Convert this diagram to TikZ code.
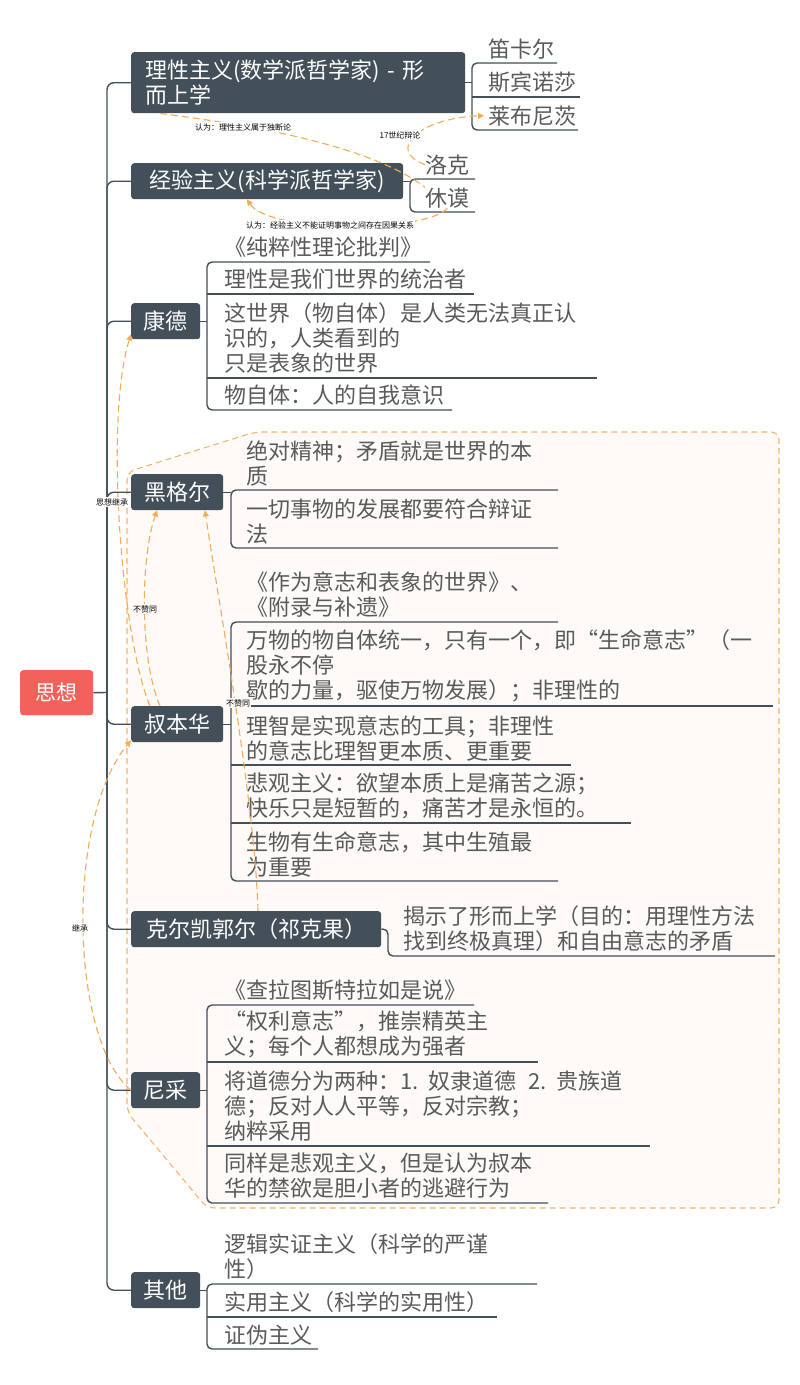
\documentclass[tikz,border=0pt]{standalone}
\usepackage{fontspec}
\setmainfont{Noto Sans CJK SC}
\usetikzlibrary{arrows.meta}
\definecolor{topicc}{HTML}{434F59}
\definecolor{rootc}{HTML}{F0625A}
\definecolor{relc}{HTML}{F6AB57}
\definecolor{bndfill}{HTML}{FEFAF7}
\definecolor{bndline}{HTML}{F6B56E}
\definecolor{subtxt}{HTML}{5A5A5A}
\tikzset{
  conn/.style={draw=topicc, line width=1.4pt},
  topicbox/.style={fill=topicc, text=white, rounded corners=3pt, font=\fontsize{22}{25}\selectfont, anchor=north west, inner sep=0pt, align=left, minimum height=36pt},
  rootbox/.style={fill=rootc, text=white, rounded corners=3pt, font=\fontsize{21}{25}\selectfont, anchor=north west, inner sep=0pt},
  subtext/.style={text=subtxt, font=\fontsize{22}{25}\selectfont, anchor=south west, inner sep=0pt, align=left},
  relline/.style={draw=relc, line width=1.1pt, dash pattern=on 7pt off 4pt, -{Triangle[length=6pt,width=6pt]}},
  rellab/.style={font=\fontsize{8}{9}\selectfont, text=black, inner sep=1pt},
  bnd/.style={draw=bndline, fill=bndfill, line width=1.1pt, dash pattern=on 6pt off 4pt, rounded corners=8pt}
}
\begin{document}
\begin{tikzpicture}[x=1pt,y=-1pt]
\useasboundingbox (0,0) rectangle (800,1385);
\fill[white] (0,0) rectangle (800,1385);

% boundary
\draw[bnd] (127,1112) -- (127,472) -- (255,432) -- (779,432) -- (779,1208) -- (207,1208) -- cycle;

% root and topics
\node[rootbox, minimum width=73pt, minimum height=45pt] (root) at (20,670) {思想};
\node[topicbox, inner xsep=14pt, text width=306pt, minimum height=61pt] (t1) at (131,52) {理性主义(数学派哲学家) - 形\\而上学};
\node[topicbox, minimum width=272pt] (t2) at (131,163) {经验主义(科学派哲学家)};
\node[topicbox, minimum width=69pt] (t3) at (131,303) {康德};
\node[topicbox, minimum width=92pt] (t4) at (131,474) {黑格尔};
\node[topicbox, minimum width=92pt] (t5) at (131,706) {叔本华};
\node[topicbox, minimum width=250pt] (t6) at (131,911) {克尔凯郭尔（祁克果）};
\node[topicbox, minimum width=69pt] (t7) at (131,1072) {尼采};
\node[topicbox, minimum width=69pt] (t8) at (131,1272) {其他};

% spine
\coordinate (sp) at (107,692.5);
\draw[conn] (root.east) -- (sp);
\foreach \t in {t1,t2,t3,t4,t5,t6,t7,t8}
  \draw[conn, rounded corners=7pt] (sp) -- (sp |- \t.west) -- (\t.west);

% group 1
\draw[conn] (t1.east) -- ++(7,0);
\draw[conn, rounded corners=5pt] (557,63) -- (472,63) -- (472,130) -- (578,130);
\draw[conn] (472,97) -- (580,97);
\node[subtext] (a1) at (488,59) {笛卡尔};
\node[subtext] (a2) at (488,93) {斯宾诺莎};
\node[subtext] (a3) at (488,126) {莱布尼茨};

% group 2
\draw[conn] (t2.east) -- ++(7,0);
\draw[conn, rounded corners=5pt] (475,179) -- (410,179) -- (410,212) -- (475,212);
\node[subtext] (b1) at (425,175) {洛克};
\node[subtext] (b2) at (425,208) {休谟};

% group 3
\draw[conn] (t3.east) -- ++(7,0);
\draw[conn, rounded corners=5pt] (430,262) -- (207,262) -- (207,410) -- (452,410);
\draw[conn] (207,294) -- (474,294);
\draw[conn] (207,378) -- (597,378);
\node[subtext] (c1) at (224,258) {《纯粹性理论批判》};
\node[subtext] (c2) at (224,290) {理性是我们世界的统治者};
\node[subtext] (c3) at (224,374) {这世界（物自体）是人类无法真正认\\识的，人类看到的\\只是表象的世界};
\node[subtext] (c4) at (224,406) {物自体：人的自我意识};

% group 4
\draw[conn] (t4.east) -- ++(8,0);
\draw[conn, rounded corners=5pt] (558,490) -- (231,490) -- (231,548) -- (558,548);
\node[subtext] (d1) at (246,486) {绝对精神；矛盾就是世界的本\\质};
\node[subtext] (d2) at (246,544) {一切事物的发展都要符合辩证\\法};

% group 5
\draw[conn] (t5.east) -- ++(8,0);
\draw[conn, rounded corners=5pt] (558,622) -- (231,622) -- (231,881) -- (558,881);
\draw[conn] (231,706) -- (773,706);
\draw[conn] (231,765) -- (571,765);
\draw[conn] (231,823) -- (631,823);
\node[subtext] (e1) at (246,618) {《作为意志和表象的世界》、\\《附录与补遗》};
\node[subtext] (e2) at (246,702) {万物的物自体统一，只有一个，即“生命意志”（一\\股永不停\\歇的力量，驱使万物发展）；非理性的};
\node[subtext] (e3) at (246,761) {理智是实现意志的工具；非理性\\的意志比理智更本质、更重要};
\node[subtext] (e4) at (246,819) {悲观主义：欲望本质上是痛苦之源；\\快乐只是短暂的，痛苦才是永恒的。};
\node[subtext] (e5) at (246,877) {生物有生命意志，其中生殖最\\为重要};

% group 6
\draw[conn, rounded corners=5pt] (t6.east) -- (388,929) -- (388,956) -- (775,956);
\node[subtext] (f1) at (403,952) {揭示了形而上学（目的：用理性方法\\找到终极真理）和自由意志的矛盾};

% group 7
\draw[conn] (t7.east) -- ++(7,0);
\draw[conn, rounded corners=5pt] (474,1005) -- (207,1005) -- (207,1203) -- (548,1203);
\draw[conn] (207,1062) -- (538,1062);
\draw[conn] (207,1146) -- (650,1146);
\node[subtext] (g1) at (224,1001) {《查拉图斯特拉如是说》};
\node[subtext] (g2) at (224,1058) {“权利意志”，推崇精英主\\义；每个人都想成为强者};
\node[subtext] (g3) at (224,1142) {将道德分为两种：1.\kern10pt 奴隶道德\kern12pt 2.\kern10pt 贵族道\\德；反对人人平等，反对宗教；\\纳粹采用};
\node[subtext] (g4) at (224,1199) {同样是悲观主义，但是认为叔本\\华的禁欲是胆小者的逃避行为};

% group 8
\draw[conn] (t8.east) -- ++(7,0);
\draw[conn, rounded corners=5pt] (537,1284) -- (207,1284) -- (207,1349) -- (318,1349);
\draw[conn] (207,1317) -- (497,1317);
\node[subtext] (h1) at (224,1280) {逻辑实证主义（科学的严谨\\性）};
\node[subtext] (h2) at (224,1313) {实用主义（科学的实用性）};
\node[subtext] (h3) at (224,1345) {证伪主义};

% relationships
\draw[relline, -] ([xshift=29pt]t1.south west) .. controls (250,125) and (370,145) .. (b2.north west);
\draw[relline] (b1.west) .. controls (385,150) and (420,118) .. ([xshift=-4pt]a3.west);
\draw[relline] (b2.south) .. controls (430,232) and (270,234) .. ([xshift=116pt]t2.south west);
\draw[relline] ([xshift=19pt]t5.north west) .. controls (122,640) and (104,420) .. ([yshift=5pt]t3.south west);
\draw[relline] ([xshift=29pt]t5.north west) .. controls (140,660) and (140,560) .. ([xshift=26pt]t4.south west);
\draw[relline] ([xshift=127pt]t6.north west) .. controls (255,800) and (215,580) .. ([xshift=74pt]t4.south west);
\draw[relline] (t7.west) .. controls (70,1040) and (65,820) .. ([yshift=2pt]t5.south west);

\node[rellab, fill=white] (l1) at (243,127) {认为：理性主义属于独断论};
\node[rellab, fill=white] (l2) at (400,135) {17世纪辩论};
\node[rellab, fill=white] (l3) at (330,225) {认为：经验主义不能证明事物之间存在因果关系};
\node[rellab, fill=white] (l4) at (112,502) {思想继承};
\node[rellab, fill=bndfill] (l5) at (145,609) {不赞同};
\node[rellab, fill=bndfill] (l6) at (238,703) {不赞同};
\node[rellab, fill=white] (l7) at (80,928) {继承};
\end{tikzpicture}
\end{document}
